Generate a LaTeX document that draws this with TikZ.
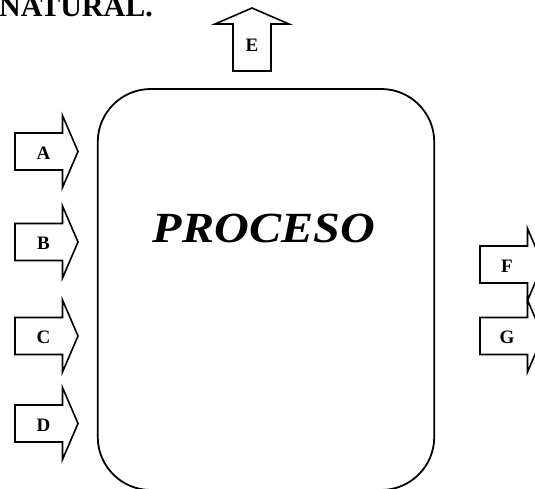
\documentclass[tikz,border=0pt]{standalone}
\usepackage{fontspec}
\setmainfont{Liberation Serif}
\begin{document}
\begin{tikzpicture}[x=1pt,y=-1pt,
  outline/.style={draw=black, line width=1.6pt, line join=miter},
  tag/.style={font=\fontsize{19}{19}\selectfont\bfseries, inner sep=0pt},
  pics/inflow/.style={code={
    \draw[outline] (0,-18.5) -- (47.5,-18.5) -- (47.5,-36) -- (63,0)
      -- (47.5,36) -- (47.5,18.5) -- (0,18.5) -- cycle;
  }},
  pics/upflow/.style={code={
    \draw[outline] (-19,0) -- (-19,-47) -- (-37,-47) -- (0,-63)
      -- (37,-47) -- (19,-47) -- (19,0) -- cycle;
  }},
]
\useasboundingbox (0,0) rectangle (535,488);
\clip (0,0) rectangle (535,488);

% heading
\node[anchor=base east, inner sep=0pt, font=\fontsize{30}{30}\selectfont\bfseries]
  (title) at (153,16) {NATURAL.};

% the process block
\node[outline, line width=1.8pt, rounded corners=53pt,
      minimum width=336.5pt, minimum height=401pt, inner sep=0pt]
  (proc) at (266,289.5) {};
\node[anchor=base, inner sep=0pt, xscale=1.12,
      font=\fontsize{43}{43}\selectfont\bfseries\itshape]
  (proctext) at (264,242) {PROCESO};

% inputs
\pic at (15,151.5) {inflow};
\node[tag] (A) at (43.5,153) {A};
\pic at (15,242) {inflow};
\node[tag] (B) at (43.5,243.5) {B};
\pic at (15,336) {inflow};
\node[tag] (C) at (43.5,337.5) {C};
\pic at (15,423.5) {inflow};
\node[tag] (D) at (43.5,425) {D};

% upward output
\pic at (252,71) {upflow};
\node[tag] (E) at (252,45) {E};

% outputs on the right
\pic at (480,264.5) {inflow};
\node[tag] (F) at (507,266) {F};
\pic at (480,336) {inflow};
\node[tag] (G) at (507,337.5) {G};
\end{tikzpicture}
\end{document}
